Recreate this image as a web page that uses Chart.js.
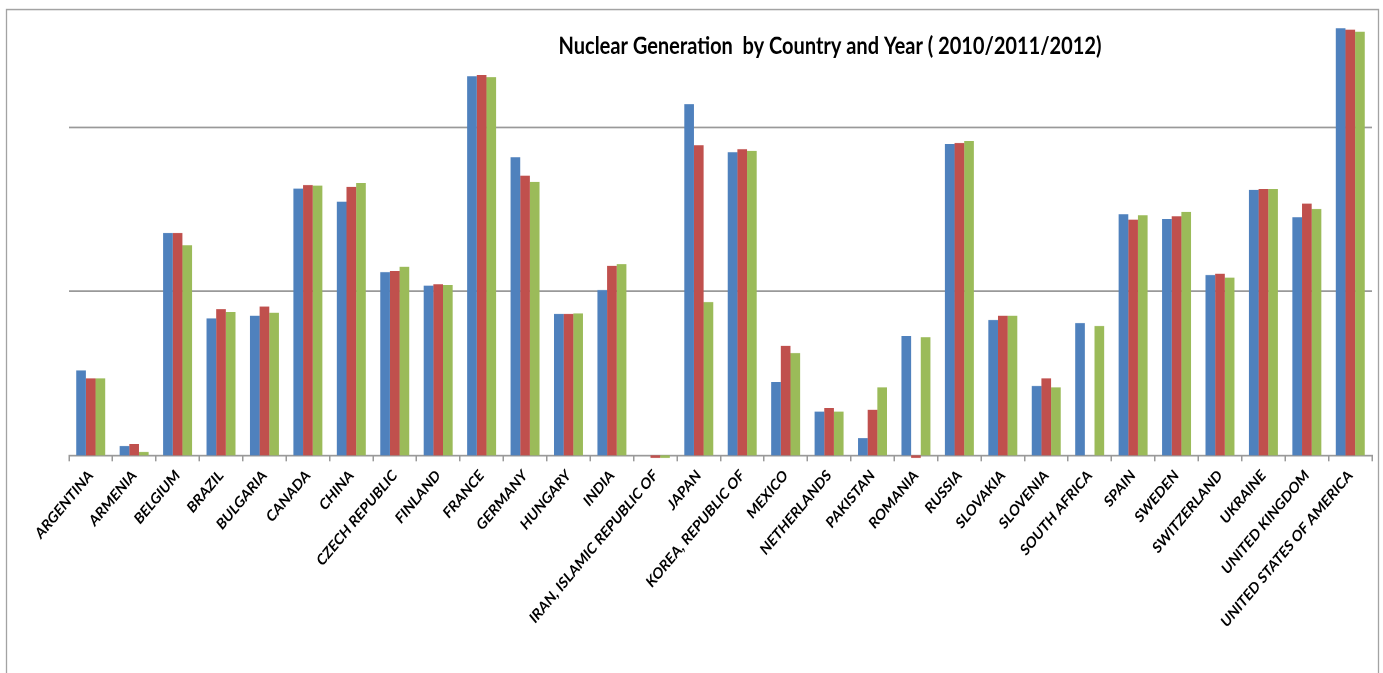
<!DOCTYPE html>
<html>
<head>
<meta charset="utf-8">
<title>Nuclear Generation by Country and Year</title>
<script src="https://cdn.jsdelivr.net/npm/chart.js@4.4.1/dist/chart.umd.min.js"></script>
<style>
    html, body { margin: 0; padding: 0; background: #fff; overflow: hidden; }
</style>
</head>
<body>
<!-- drawn at 1383x561 and shown at 1383x673: the reference picture is stretched vertically -->
<canvas id="nuclear" width="1383" height="561" style="width:1383px;height:673px"></canvas>
<script>
const countries = ['ARGENTINA', 'ARMENIA', 'BELGIUM', 'BRAZIL', 'BULGARIA', 'CANADA', 'CHINA',
    'CZECH REPUBLIC', 'FINLAND', 'FRANCE', 'GERMANY', 'HUNGARY', 'INDIA', 'IRAN, ISLAMIC REPUBLIC OF',
    'JAPAN', 'KOREA, REPUBLIC OF', 'MEXICO', 'NETHERLANDS', 'PAKISTAN', 'ROMANIA', 'RUSSIA', 'SLOVAKIA',
    'SLOVENIA', 'SOUTH AFRICA', 'SPAIN', 'SWEDEN', 'SWITZERLAND', 'UKRAINE', 'UNITED KINGDOM',
    'UNITED STATES OF AMERICA'];

// TWh (log axis)
const gen2010 = [6.6, 2.28, 45.5, 13.7, 14.2, 84.7, 70.6, 26.2, 21.7, 410, 131.6, 14.6, 20.4, null,
    278, 141.2, 5.6, 3.7, 2.55, 10.7, 158.7, 13.4, 5.3, 12.8, 59.1, 55.4, 25.2, 83.2, 56.7, 805];
const gen2011 = [5.9, 2.35, 45.5, 15.6, 16.2, 89.2, 86.8, 26.6, 22.1, 418, 101.7, 14.6, 28.7, 0.1,
    155.8, 147.3, 9.3, 3.9, 3.8, 0.5, 160.9, 14.2, 5.9, null, 54.8, 57.5, 25.6, 84.3, 68.6, 790];
const gen2012 = [5.9, 2.1, 38.2, 15.0, 14.8, 88.3, 91.8, 28.3, 21.9, 406, 93.4, 14.7, 29.4, 1.3,
    17.2, 143.8, 8.4, 3.7, 5.2, 10.5, 165.5, 14.2, 5.2, 12.3, 58.3, 61.3, 24.3, 84.3, 63.7, 768];

const years = ['2010', '2011', '2012'];
const gridValues = [20, 200];
const axisMin = 2;
const axisMax = 1000;

const titleText = 'Nuclear Generation  by Country and Year ( 2010/2011/2012)';

const chartFrame = {
    id: 'chartFrame',
    beforeDraw(chart) {
        const ctx = chart.ctx;
        ctx.save();
        ctx.fillStyle = '#fff';
        ctx.fillRect(0, 0, chart.width, chart.height);
        ctx.strokeStyle = '#a3a3a3';
        ctx.lineWidth = 1.3;
        ctx.strokeRect(6.5, 8, 1372, 700);
        ctx.restore();
    }
};

const chartTitle = {
    id: 'chartTitle',
    afterDatasetsDraw(chart) {
        const ctx = chart.ctx;
        ctx.save();
        ctx.font = 'bold 20px Lato';
        ctx.fillStyle = '#000';
        ctx.textAlign = 'center';
        ctx.textBaseline = 'alphabetic';
        ctx.fillText(titleText, 830, 45);
        ctx.restore();
    }
};

const nuclear = document.getElementById('nuclear');

new Chart(nuclear, {
    type: 'bar',
    data: {
        labels: countries,
        datasets: [{
            label: years[0],
            data: gen2010,
            backgroundColor: '#4F81BD'
        }, {
            label: years[1],
            data: gen2011,
            backgroundColor: '#C0504D'
        }, {
            label: years[2],
            data: gen2012,
            backgroundColor: '#9BBB59'
        }]
    },
    options: {
        responsive: false,
        devicePixelRatio: 2,
        animation: false,
        layout: {
            padding: { left: 0, right: 11, top: 10.75, bottom: 0 }
        },
        datasets: {
            bar: {
                categoryPercentage: 0.667,
                barPercentage: 1.0,
                // values under the axis minimum show as a sliver below the baseline
                clip: { left: 0, top: 0, right: 0, bottom: 2 }
            }
        },
        plugins: {
            legend: { display: false },
            title: { display: false },
            tooltip: { enabled: false }
        },
        scales: {
            x: {
                grid: {
                    drawOnChartArea: false,
                    drawTicks: true,
                    tickLength: 5,
                    color: '#999',
                    lineWidth: 1.5
                },
                border: { display: true, color: '#999', width: 1.5 },
                ticks: {
                    color: '#000',
                    font: { family: 'Lato', weight: 'bold', size: 13 },
                    minRotation: 45,
                    maxRotation: 45,
                    autoSkip: false,
                    padding: 4
                },
                afterFit(scale) {
                    scale.height = 181.4;
                }
            },
            y: {
                type: 'logarithmic',
                min: axisMin,
                max: axisMax,
                border: { display: false },
                grid: { color: '#999', lineWidth: 1.5, drawTicks: false },
                ticks: { display: false },
                afterBuildTicks(axis) {
                    axis.ticks = gridValues.map(v => ({ value: v }));
                },
                afterFit(scale) {
                    scale.width = 69;
                }
            }
        }
    },
    plugins: [chartFrame, chartTitle]
});
</script>
</body>
</html>
